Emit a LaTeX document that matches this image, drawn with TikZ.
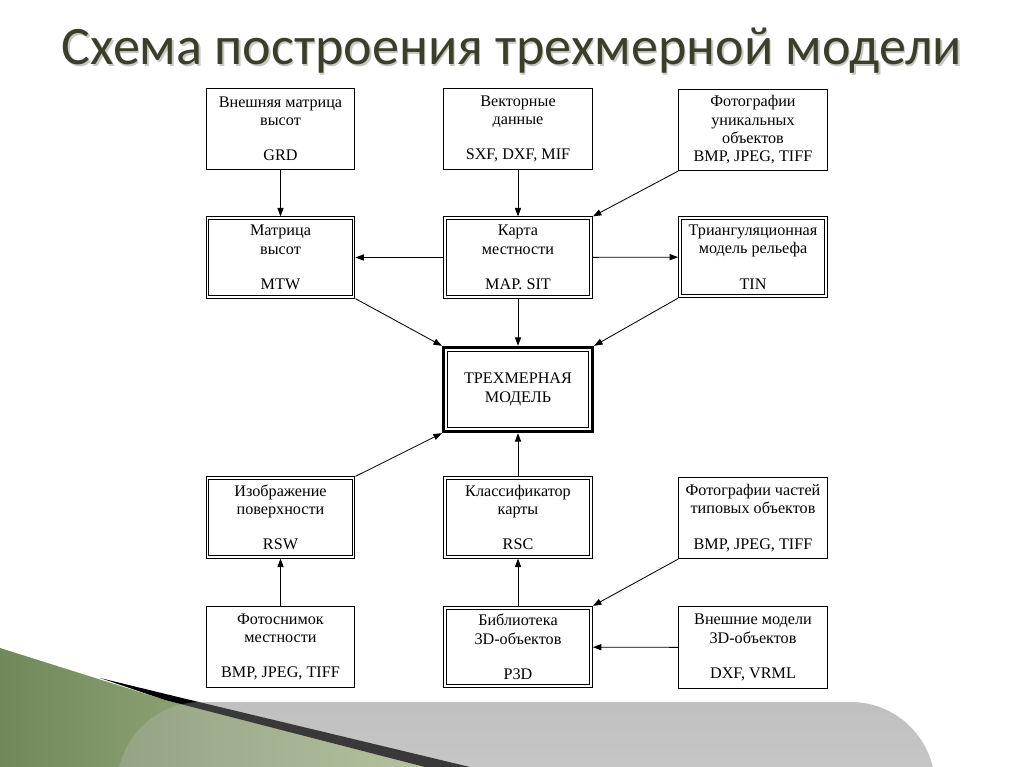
\documentclass[tikz,border=0pt]{standalone}
\usepackage{fontspec}
\setmainfont{Liberation Serif}
\newfontfamily\titlefont{Carlito}
\usetikzlibrary{positioning,arrows.meta,calc}
\definecolor{smTitle}{RGB}{60,62,44}
\definecolor{smShade}{RGB}{200,200,192}
\definecolor{smGreen}{RGB}{112,136,90}
\definecolor{smLeaf}{RGB}{176,194,146}
\definecolor{smBand}{RGB}{192,192,192}
\definecolor{smBandLow}{RGB}{214,214,214}
\tikzset{
    base/.style={font=\fontsize{11.5}{13}\selectfont, align=center},
    block/.style={base, rectangle, draw, line width=0.75pt, fill=white,
                  minimum width=3.72cm, minimum height=2.03cm, inner sep=2pt},
    store/.style={block},
    core/.style={block, line width=2.4pt, minimum height=2.1cm},
    flow/.style={-{Triangle[length=6pt,width=4.4pt]}, line width=0.6pt},
    heading/.style={font=\titlefont\fontsize{38.5}{44}\selectfont, anchor=base}
}
\begin{document}
\begin{tikzpicture}[x=0.025cm, y=-0.025cm]
  \useasboundingbox (0,0) rectangle (1024,767);
  \begin{scope}
    \clip (0,0) rectangle (1024,767);
    % slide decoration
    \path[top color=smBand, bottom color=smBandLow]
      (117,840) [rounded corners=60] -- (117,702) -- (935,702) [sharp corners] -- (935,840) -- cycle;
    \path[left color=smGreen, right color=smLeaf]
      (0,648) -- (165,700) -- (425,767) -- (0,767) -- cycle;
    \fill[black] (100,678) -- (178,697) -- (470,767) -- (425,767) -- (165,700) -- cycle;
    \path[fill=smBand, opacity=0.3]
      (117,840) [rounded corners=60] -- (117,702) -- (935,702) [sharp corners] -- (935,840) -- cycle;
  \end{scope}

  % title
  \node[heading, text=smShade] at (513.5,66.5) {Схема построения трехмерной модели};
  \node[heading, text=smTitle] (title) at (512,65) {Схема построения трехмерной модели};

  % sources
  \node[block] (grd) at (280.5,129) {Внешняя матрица\\высот\\[12pt]GRD};
  \node[block] (vec) at (518,129) {Векторные\\данные\\[12pt]SXF, DXF, MIF};
  \node[block] (uniq) at (753,130) {Фотографии\\уникальных\\объектов\\BMP, JPEG, TIFF};

  % maps
  \node[store] (mtw) at (280.5,257.5) {Матрица\\высот\\[12pt]MTW};
  \node[store] (map) at (518,257.5) {Карта\\местности\\[12pt]MAP. SIT};
  \node[store] (tin) at (753,257) {Триангуляционная\\модель рельефа\\[12pt]TIN};

  % result
  \node[core] (model) at (518,389.5) {ТРЕХМЕРНАЯ\\МОДЕЛЬ};
  \draw[line width=0.6pt] ([shift={(4pt,-4pt)}]model.north west)
    rectangle ([shift={(-4pt,4pt)}]model.south east);

  % lower layers
  \node[store] (rsw) at (280.5,517.5) {Изображение\\поверхности\\[12pt]RSW};
  \node[store] (rsc) at (518,517.5) {Классификатор\\карты\\[12pt]RSC};
  \node[block] (parts) at (753,518) {Фотографии частей\\типовых объектов\\[12pt]BMP, JPEG, TIFF};

  \node[block] (photo) at (280.5,647) {Фотоснимок\\местности\\[12pt]BMP, JPEG, TIFF};
  \node[store] (lib) at (518,647) {Библиотека\\3D-объектов\\[12pt]P3D};
  \node[block] (ext) at (753,647.5) {Внешние модели\\3D-объектов\\[12pt]DXF, VRML};

  % inner frames of the double boxes
  \foreach \n in {mtw,map,tin,rsw,rsc,lib}
    \draw[line width=0.75pt] ([shift={(2.4pt,-2.4pt)}]\n.north west)
      rectangle ([shift={(-2.4pt,2.4pt)}]\n.south east);

  % connections
  \draw[flow] (grd) -- (mtw);
  \draw[flow] (vec) -- (map);
  \draw[flow] (uniq.south west) -- (map.north east);
  \draw[flow] (map) -- (mtw);
  \draw[flow] (map) -- (tin);
  \draw[flow] (mtw.south east) -- (model.north west);
  \draw[flow] (map) -- (model);
  \draw[flow] (tin.south west) -- (model.north east);
  \draw[flow] (rsw.north east) -- (model.south west);
  \draw[flow] (rsc) -- (model);
  \draw[flow] (photo) -- (rsw);
  \draw[flow] (lib) -- (rsc);
  \draw[flow] (parts.south west) -- (lib.north east);
  \draw[flow] (ext) -- (lib);
\end{tikzpicture}
\end{document}
